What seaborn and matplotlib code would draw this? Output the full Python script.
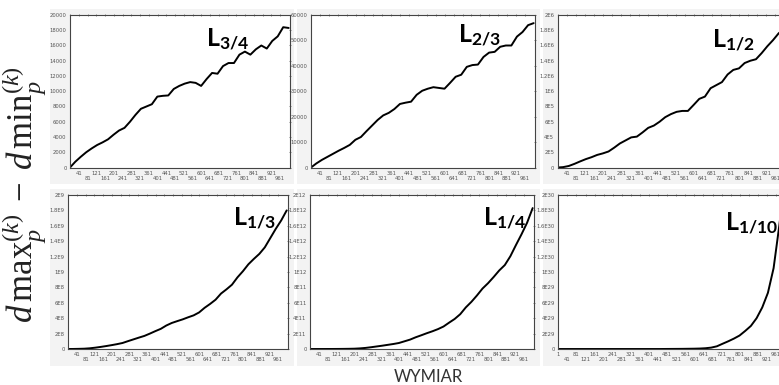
import math
import numpy as np
import pandas as pd
import matplotlib
matplotlib.use('Agg')
import matplotlib.pyplot as plt
import seaborn as sns
from matplotlib.patches import Rectangle
from matplotlib.ticker import FixedLocator, FuncFormatter

# dane (co 25 wymiarow)
wymiar = [1] + list(range(25, 1001, 25))

l_34 = [0, 750, 1400, 2000, 2500, 2950, 3300, 3700, 4300, 4850,
        5200, 6000, 6900, 7700, 8000, 8300, 9300, 9400, 9450, 10300,
        10700, 11000, 11200, 11100, 10700, 11600, 12400, 12300, 13300, 13700,
        13700, 14800, 15200, 14800, 15500, 16000, 15600, 16600, 17200, 18400,
        18300]

l_23 = [0, 1600, 3000, 4200, 5400, 6600, 7700, 8900, 10900, 12000,
        14300, 16500, 18700, 20500, 21500, 23000, 25000, 25500, 25900, 28600,
        30200, 31000, 31600, 31300, 31000, 33300, 35700, 36500, 39600, 40300,
        40500, 43500, 45200, 45500, 47500, 48000, 48000, 51500, 53300, 56000,
        56800]

l_12 = [0, 0.005e6, 0.02e6, 0.048e6, 0.08e6, 0.11e6, 0.135e6, 0.165e6, 0.185e6, 0.21e6,
        0.26e6, 0.315e6, 0.355e6, 0.395e6, 0.405e6, 0.46e6, 0.52e6, 0.55e6, 0.60e6, 0.66e6,
        0.70e6, 0.73e6, 0.742e6, 0.742e6, 0.82e6, 0.90e6, 0.93e6, 1.04e6, 1.08e6, 1.12e6,
        1.22e6, 1.28e6, 1.30e6, 1.37e6, 1.40e6, 1.42e6, 1.50e6, 1.59e6, 1.67e6, 1.76e6,
        1.82e6]

l_13 = [0, 0.0005e9, 0.002e9, 0.004e9, 0.009e9, 0.017e9, 0.027e9, 0.038e9, 0.050e9, 0.063e9,
        0.078e9, 0.102e9, 0.125e9, 0.148e9, 0.170e9, 0.200e9, 0.232e9, 0.262e9, 0.305e9, 0.338e9,
        0.362e9, 0.385e9, 0.412e9, 0.437e9, 0.475e9, 0.535e9, 0.585e9, 0.640e9, 0.720e9, 0.775e9,
        0.835e9, 0.930e9, 1.01e9, 1.10e9, 1.17e9, 1.235e9, 1.32e9, 1.44e9, 1.56e9, 1.67e9,
        1.80e9]

l_14 = [0, 0.00001e12, 0.00005e12, 0.0002e12, 0.0004e12, 0.0008e12, 0.0015e12, 0.0025e12, 0.004e12, 0.008e12,
        0.014e12, 0.023e12, 0.033e12, 0.043e12, 0.054e12, 0.065e12, 0.078e12, 0.100e12, 0.122e12, 0.152e12,
        0.178e12, 0.205e12, 0.230e12, 0.258e12, 0.292e12, 0.342e12, 0.390e12, 0.452e12, 0.540e12, 0.612e12,
        0.695e12, 0.785e12, 0.855e12, 0.935e12, 1.02e12, 1.09e12, 1.205e12, 1.35e12, 1.49e12, 1.64e12,
        1.83e12]

l_110 = [0, 0, 0, 0, 0, 0, 0, 0, 0, 0,
         0, 0, 0, 0, 0, 0, 0, 0, 0, 0.0005e30,
         0.001e30, 0.0015e30, 0.002e30, 0.003e30, 0.004e30, 0.006e30, 0.010e30, 0.018e30, 0.035e30, 0.068e30,
         0.10e30, 0.135e30, 0.175e30, 0.235e30, 0.30e30, 0.40e30, 0.54e30, 0.73e30, 1.05e30, 1.60e30,
         2.2e30]

serie = [l_34, l_23, l_12, l_13, l_14, l_110]
nazwy = ['3/4', '2/3', '1/2', '1/3', '1/4', '1/10']
ymax = [20000, 60000, 2e6, 2e9, 2e12, 2e30]
ykrok = [2000, 10000, 2e5, 2e8, 2e11, 2e29]
xticks = list(range(1, 1000, 40))

sns.set_style('white')
plt.rcParams['mathtext.fontset'] = 'custom'
plt.rcParams['mathtext.rm'] = 'Liberation Serif'
plt.rcParams['mathtext.it'] = 'Liberation Serif:italic'
plt.rcParams['mathtext.bf'] = 'Lato:bold'

W, H = 779, 385
fig = plt.figure(figsize=(W / 100, H / 100), dpi=100)
fig.patch.set_facecolor('white')

# pozycje paneli w pikselach: left, top, width, height
pozycje = [(70, 15, 220, 152.5), (311, 15, 224, 152.5), (557.7, 15, 228, 152.5),
           (68, 195, 220, 154), (310, 195, 224, 154), (558.3, 195, 228, 154)]
# szare tla paneli
karty = [(50, 9, 244, 175), (297, 9, 243, 175), (543, 9, 240, 175),
         (50, 189, 244, 177), (297, 189, 243, 177), (543, 189, 240, 177)]
# pozycja napisu L (ulamki osi)
etykiety = [(0.62, 0.80), (0.656, 0.823), (0.677, 0.79),
            (0.75, 0.805), (0.772, 0.805), (0.73, 0.775)]


def fmt_plain(v, pos):
    return '%d' % round(v)


def fmt_sci(v, pos):
    if v <= 0:
        return '0'
    e = int(math.floor(math.log10(v) + 1e-9))
    m = v / 10 ** e
    return '%gE%d' % (round(m, 3), e)


for (x0, y0, w, h) in karty:
    fig.patches.append(Rectangle((x0 / W, 1 - (y0 + h) / H), w / W, h / H,
                                 transform=fig.transFigure, facecolor='#f3f3f3',
                                 edgecolor='none', zorder=-5))

for i, y in enumerate(serie):
    l, t, w, h = pozycje[i]
    ax = fig.add_axes([l / W, 1 - (t + h) / H, w / W, h / H])
    ax.set_facecolor('white')
    df = pd.DataFrame({'wymiar': wymiar, 'wartosc': y})
    sns.lineplot(data=df, x='wymiar', y='wartosc', ax=ax, color='black', linewidth=1.4)
    ax.set_xlim(1, 1006)
    ax.set_ylim(0, ymax[i])
    ax.set_xlabel('')
    ax.set_ylabel('')

    ax.yaxis.set_major_locator(FixedLocator(np.arange(0, ymax[i] * 1.0001, ykrok[i])))
    ax.yaxis.set_major_formatter(FuncFormatter(fmt_plain if i < 2 else fmt_sci))

    ax.xaxis.set_major_locator(FixedLocator(xticks))
    labs = []
    for k, t_ in enumerate(xticks):
        if i < 5:
            if k == 0:
                labs.append('')
            elif k % 2 == 1:
                labs.append(str(t_))
            else:
                labs.append('\n' + str(t_))
        else:
            labs.append(str(t_) if k % 2 == 0 else '\n' + str(t_))
    ax.set_xticklabels(labs, linespacing=1.0)

    ax.tick_params(axis='both', which='major', labelsize=3.8, labelcolor='#555555',
                   length=2, width=0.5, color='#555555', pad=1.5,
                   top=True, right=True, direction='inout')
    for s in ax.spines.values():
        s.set_visible(True)
        s.set_color('#444444')
        s.set_linewidth(0.8)

    ax.text(etykiety[i][0], etykiety[i][1], r'$\mathbf{L}_{\mathbf{%s}}$' % nazwy[i],
            transform=ax.transAxes, ha='left', va='baseline', fontsize=18, color='black')

fig.text(24 / W, 1 - 195 / H, r'$d\,\mathrm{max}_p^{(k)}\;-\;d\,\mathrm{min}_p^{(k)}$',
         rotation=90, ha='center', va='center', fontsize=25, color='#222222')
fig.text(428 / W, 1 - 377 / H, 'WYMIAR', ha='center', va='center',
         fontsize=12, color='#333333', family='Lato')

fig.savefig('out.png', dpi=100, facecolor=fig.get_facecolor())
